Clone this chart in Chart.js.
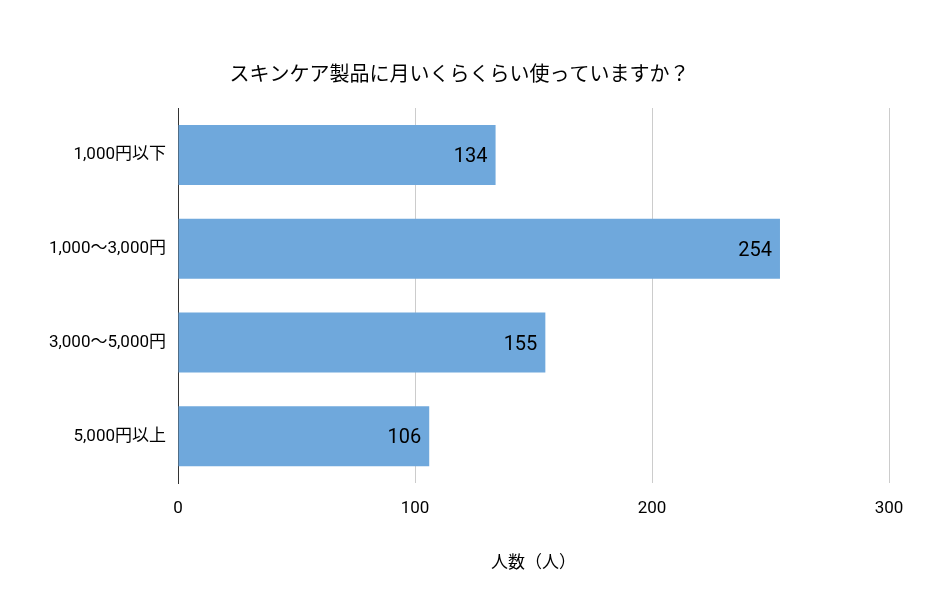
<!DOCTYPE html>
<html><head><meta charset="utf-8">
<script src="https://cdn.jsdelivr.net/npm/chart.js@4/dist/chart.umd.min.js"></script>
<style>html,body{margin:0;padding:0;background:#fff}#w{width:950px;height:600px}</style>
</head><body><div id="w"><canvas id="c"></canvas></div>
<script>
const categories = ["1,000円以下","1,000〜3,000円","3,000〜5,000円","5,000円以上"];
const values = [134,254,155,106];
const ticks = [0,100,200,300];
const FONT = "Roboto, 'Noto Sans CJK JP', sans-serif";
const labelPlugin = {
  id:'lbl',
  afterDatasetsDraw(chart){
    const ctx=chart.ctx; const meta=chart.getDatasetMeta(0);
    ctx.save(); ctx.font="20px "+FONT; ctx.fillStyle="#000"; ctx.textAlign="right"; ctx.textBaseline="middle";
    meta.data.forEach((b,i)=>{ ctx.fillText(String(values[i]), b.x-8, b.y+2); });
    ctx.restore();
  }
};
new Chart(document.getElementById('c'),{
  type:'bar',
  data:{labels:categories,datasets:[{data:values,backgroundColor:'#6fa8dc',categoryPercentage:0.64,barPercentage:1}]},
  plugins:[labelPlugin],
  options:{
    indexAxis:'y',responsive:true,maintainAspectRatio:false,animation:false,
    layout:{padding:{left:30,right:61,top:0,bottom:22}},
    plugins:{legend:{display:false},tooltip:{enabled:false},
      title:{display:true,text:'スキンケア製品に月いくらくらい使っていますか？',color:'#000',font:{family:FONT,size:20,weight:'normal'},padding:{top:64,bottom:20}}},
    scales:{
      x:{min:0,max:300,afterBuildTicks(s){s.ticks=ticks.map(v=>({value:v}));},
        grid:{color:'#cccccc',drawTicks:false},border:{display:false},
        ticks:{color:'#000',font:{family:FONT,size:17},padding:15},
        title:{display:true,text:'人数（人）',color:'#000',font:{family:FONT,size:17},padding:{top:20}}},
      y:{grid:{display:false,drawTicks:false},border:{display:true,color:'#333'},
        afterFit(s){s.width=148;},
        ticks:{color:'#000',font:{family:FONT,size:17},padding:12}}
    }
  }
});
</script></body></html>
